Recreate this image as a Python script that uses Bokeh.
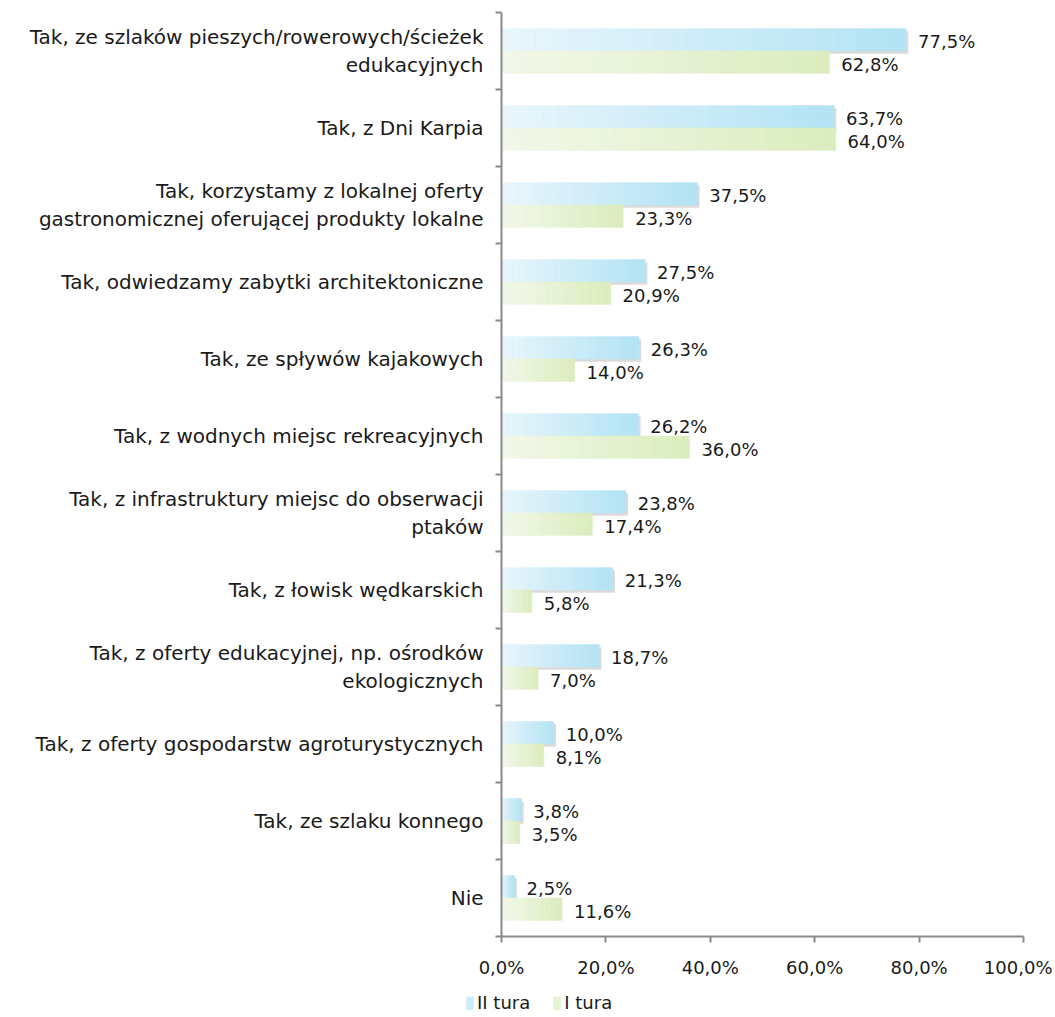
import numpy as np
from bokeh.plotting import figure
from bokeh.models import (ColumnDataSource, Range1d, FixedTicker, Legend, LegendItem,
                          LinearAxis)
from bokeh.embed import file_html
from bokeh.resources import INLINE
from bokeh.core.properties import value

categories = [
    "Tak, ze szlaków pieszych/rowerowych/ścieżek\nedukacyjnych",
    "Tak, z Dni Karpia",
    "Tak, korzystamy z lokalnej oferty\ngastronomicznej oferującej produkty lokalne",
    "Tak, odwiedzamy zabytki architektoniczne",
    "Tak, ze spływów kajakowych",
    "Tak, z wodnych miejsc rekreacyjnych",
    "Tak, z infrastruktury miejsc do obserwacji\nptaków",
    "Tak, z łowisk wędkarskich",
    "Tak, z oferty edukacyjnej, np. ośrodków\nekologicznych",
    "Tak, z oferty gospodarstw agroturystycznych",
    "Tak, ze szlaku konnego",
    "Nie",
]
tura_2 = [77.5, 63.7, 37.5, 27.5, 26.3, 26.2, 23.8, 21.3, 18.7, 10.0, 3.8, 2.5]
tura_1 = [62.8, 64.0, 23.3, 20.9, 14.0, 36.0, 17.4, 5.8, 7.0, 8.1, 3.5, 11.6]
series_names = ["II tura", "I tura"]
x_ticks = [0, 20, 40, 60, 80, 100]
x_tick_labels = ["0,0%", "20,0%", "40,0%", "60,0%", "80,0%", "100,0%"]

FONT = "DejaVu Sans"
TXT = "#1a1a1a"
AXIS = "#8a8a8a"

n = len(categories)
centers = [n - 1 - i + 0.5 for i in range(n)]
bounds = list(range(n + 1))

# Layout in pixels: the frame covers the whole canvas; the value axis
# spans px 501..1023 and the categories span px 12..936.
W, H = 1052, 1016
X0_PX, X100_PX = 501, 1023
Y_TOP_PX, Y_BOT_PX = 12, 936
sx = (X100_PX - X0_PX) / 100.0
sy = (Y_BOT_PX - Y_TOP_PX) / n
x_range = Range1d(-X0_PX / sx, 100 + (W - X100_PX) / sx)
y_range = Range1d(-(H - Y_BOT_PX) / sy, n + Y_TOP_PX / sy)

p = figure(width=W, height=H, x_range=x_range, y_range=y_range,
           output_backend="svg", toolbar_location=None,
           x_axis_location=None, y_axis_location=None,
           min_border_left=0, min_border_right=0, min_border_top=0, min_border_bottom=0)
p.outline_line_color = None
p.xgrid.visible = False
p.ygrid.visible = False


def hex2rgb(h):
    h = h.lstrip("#")
    return [int(h[i:i + 2], 16) for i in (0, 2, 4)]


def interp(c0, c1, t):
    a, b = hex2rgb(c0), hex2rgb(c1)
    return "#%02x%02x%02x" % tuple(int(round(a[j] + (b[j] - a[j]) * t)) for j in range(3))


grads = [("#e9f6fc", "#b2e3f4"), ("#f2f8ea", "#dbedbd")]
offsets = [0.145, -0.145]
BAR_H = 0.29
NSEG = 24

# shadow under II tura bars
p.hbar(y=[c + offsets[0] - 0.035 for c in centers], left=0, right=[v + 0.45 for v in tura_2],
       height=BAR_H, fill_color="#7f7f7f", fill_alpha=0.28, line_color=None)

renderers = []
for s, vals in enumerate([tura_2, tura_1]):
    ys, ls, rs, cs = [], [], [], []
    for i, v in enumerate(vals):
        for k in range(NSEG):
            ys.append(centers[i] + offsets[s])
            ls.append(v * k / NSEG)
            rs.append(v * (k + 1) / NSEG)
            cs.append(interp(grads[s][0], grads[s][1], (k + 0.5) / NSEG))
    src = ColumnDataSource(dict(y=ys, left=ls, right=rs, color=cs))
    r = p.hbar(y="y", left="left", right="right", height=BAR_H, source=src,
               fill_color="color", line_color="color", line_width=0.6)
    renderers.append(r)

    lab = ColumnDataSource(dict(x=vals, y=[c + offsets[s] for c in centers],
                                t=[("%.1f%%" % v).replace(".", ",") for v in vals]))
    p.text(x="x", y="y", text="t", source=lab, x_offset=12, y_offset=2,
           text_baseline="middle", text_align="left", text_color=TXT,
           text_font=value(FONT), text_font_size="18px")

# x axis placed at y = 0
xa = LinearAxis(fixed_location=0)
xa.bounds = (0, 100)
xa.ticker = FixedTicker(ticks=x_ticks)
xa.major_label_overrides = {t: l for t, l in zip(x_ticks, x_tick_labels)}
xa.major_label_text_font = FONT
xa.major_label_text_font_size = "18px"
xa.major_label_text_color = TXT
xa.major_label_standoff = 14
xa.axis_line_color = AXIS
xa.axis_line_width = 2
xa.major_tick_line_color = AXIS
xa.major_tick_line_width = 2
xa.major_tick_out = 6
xa.major_tick_in = 0
xa.minor_tick_line_color = None
p.add_layout(xa, "below")

# category axis placed at x = 0
ya = LinearAxis(fixed_location=0)
ya.bounds = (0, n)
ya.ticker = FixedTicker(ticks=centers, minor_ticks=bounds)
ya.major_label_overrides = {c: l for c, l in zip(centers, categories)}
ya.major_label_text_font = FONT
ya.major_label_text_font_size = "20px"
ya.major_label_text_color = TXT
ya.major_label_standoff = 12
ya.major_label_text_line_height = 1.2
ya.axis_line_color = AXIS
ya.axis_line_width = 2
ya.major_tick_line_color = None
ya.minor_tick_line_color = AXIS
ya.minor_tick_line_width = 2
ya.minor_tick_out = 6
ya.minor_tick_in = 0
p.add_layout(ya, "left")

legend = Legend(items=[LegendItem(label=series_names[s], renderers=[renderers[s]], index=NSEG // 2)
                       for s in range(2)],
                orientation="horizontal", location=(465, 3),
                border_line_color=None, background_fill_alpha=0,
                label_text_font=FONT, label_text_font_size="18px", label_text_color=TXT,
                glyph_width=9, glyph_height=16, label_standoff=3, spacing=22,
                padding=0, margin=0)
p.add_layout(legend, "center")

open("out.html", "w").write(file_html(p, INLINE))
